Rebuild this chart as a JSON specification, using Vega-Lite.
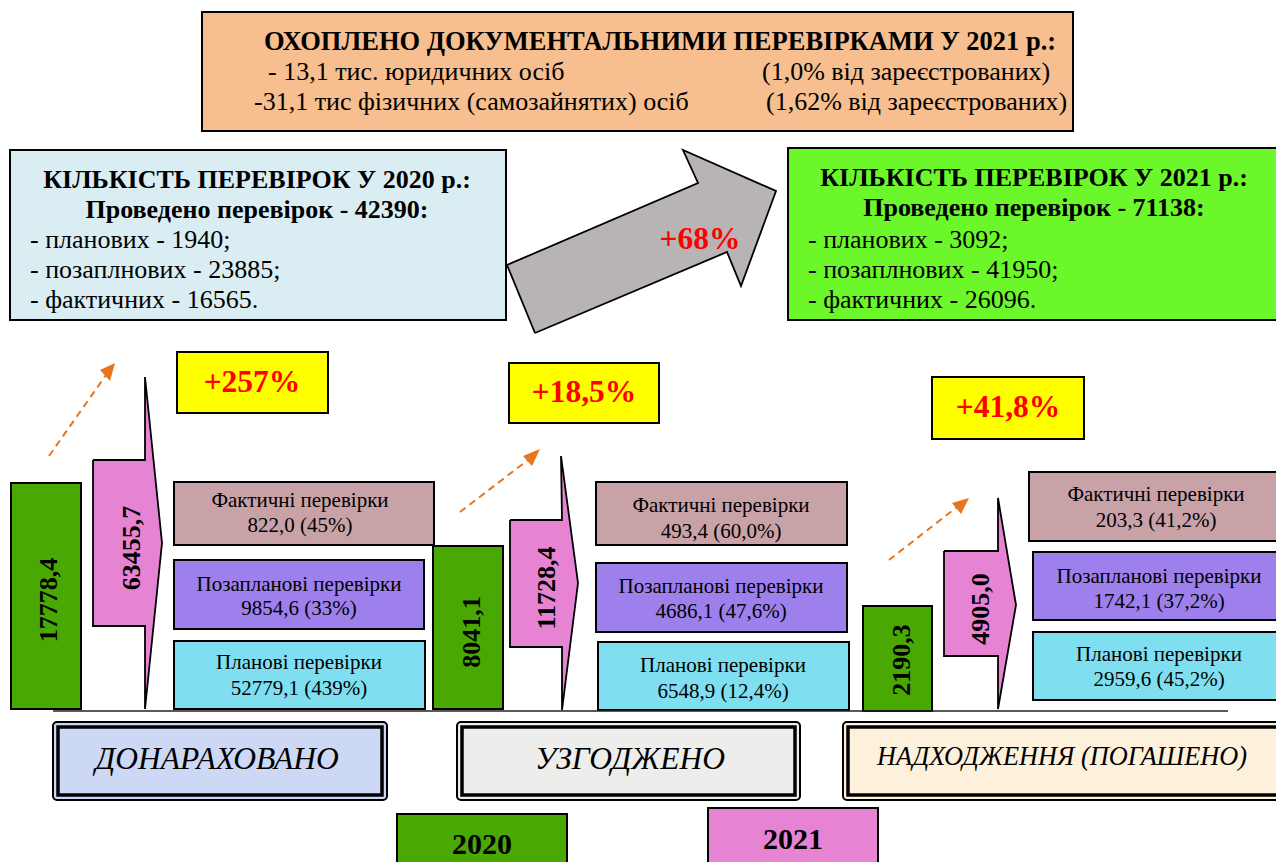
{
  "$schema": "https://vega.github.io/schema/vega-lite/v6.json",
  "width": 1276,
  "height": 862,
  "autosize": {"type": "fit", "contains": "padding"},
  "padding": 0,
  "background": "white",
  "config": {"view": {"stroke": null}},
  "datasets": {
    "rects": [
      {"kind": "top", "x": 202, "x2": 1073, "y": 12, "y2": 131},
      {"kind": "y2020", "x": 10, "x2": 506, "y": 150, "y2": 320},
      {"kind": "y2021", "x": 788, "x2": 1282, "y": 148, "y2": 320},
      {"kind": "yellow", "x": 177, "x2": 328, "y": 352, "y2": 413},
      {"kind": "yellow", "x": 509, "x2": 659, "y": 363, "y2": 423},
      {"kind": "yellow", "x": 932, "x2": 1084, "y": 377, "y2": 439},
      {"kind": "green", "x": 11, "x2": 81, "y": 483, "y2": 709},
      {"kind": "green", "x": 433, "x2": 503, "y": 546, "y2": 709},
      {"kind": "green", "x": 863, "x2": 932, "y": 606, "y2": 711},
      {"kind": "fact", "x": 174, "x2": 434, "y": 482, "y2": 545},
      {"kind": "poza", "x": 174, "x2": 424, "y": 560, "y2": 629},
      {"kind": "plan", "x": 174, "x2": 425, "y": 641, "y2": 709},
      {"kind": "fact", "x": 596, "x2": 847, "y": 482, "y2": 545},
      {"kind": "poza", "x": 596, "x2": 847, "y": 563, "y2": 632},
      {"kind": "plan", "x": 598, "x2": 849, "y": 642, "y2": 710},
      {"kind": "fact", "x": 1029, "x2": 1282, "y": 472, "y2": 541},
      {"kind": "poza", "x": 1033, "x2": 1282, "y": 552, "y2": 620},
      {"kind": "plan", "x": 1033, "x2": 1282, "y": 632, "y2": 700},
      {"kind": "green", "x": 397, "x2": 567, "y": 814, "y2": 870},
      {"kind": "pink", "x": 708, "x2": 878, "y": 808, "y2": 870}
    ],
    "labels": [
      {"kind": "lab1", "x": 53, "x2": 387, "y": 722, "y2": 800},
      {"kind": "lab2", "x": 457, "x2": 800, "y": 722, "y2": 800},
      {"kind": "lab3", "x": 843, "x2": 1282, "y": 722, "y2": 800}
    ],
    "frames": [
      {"x": 58, "x2": 382, "y": 727, "y2": 795},
      {"x": 462, "x2": 795, "y": 727, "y2": 795},
      {"x": 848, "x2": 1282, "y": 727, "y2": 795}
    ],
    "polys": [
      {"shape": "gray", "kind": "gray", "i": 1, "x": 535, "y": 333},
      {"shape": "gray", "kind": "gray", "i": 2, "x": 507, "y": 265},
      {"shape": "gray", "kind": "gray", "i": 3, "x": 698, "y": 183},
      {"shape": "gray", "kind": "gray", "i": 4, "x": 683, "y": 150},
      {"shape": "gray", "kind": "gray", "i": 5, "x": 776, "y": 191},
      {"shape": "gray", "kind": "gray", "i": 6, "x": 741, "y": 286},
      {"shape": "gray", "kind": "gray", "i": 7, "x": 727, "y": 252},
      {"shape": "gray", "kind": "gray", "i": 8, "x": 535, "y": 333},
      {"shape": "p1", "kind": "pink", "i": 1, "x": 93, "y": 460},
      {"shape": "p1", "kind": "pink", "i": 2, "x": 145, "y": 460},
      {"shape": "p1", "kind": "pink", "i": 3, "x": 145, "y": 377},
      {"shape": "p1", "kind": "pink", "i": 4, "x": 162, "y": 543},
      {"shape": "p1", "kind": "pink", "i": 5, "x": 145, "y": 709},
      {"shape": "p1", "kind": "pink", "i": 6, "x": 145, "y": 626},
      {"shape": "p1", "kind": "pink", "i": 7, "x": 93, "y": 626},
      {"shape": "p1", "kind": "pink", "i": 8, "x": 93, "y": 460},
      {"shape": "p2", "kind": "pink", "i": 1, "x": 510, "y": 520},
      {"shape": "p2", "kind": "pink", "i": 2, "x": 562, "y": 520},
      {"shape": "p2", "kind": "pink", "i": 3, "x": 561, "y": 456},
      {"shape": "p2", "kind": "pink", "i": 4, "x": 578, "y": 583},
      {"shape": "p2", "kind": "pink", "i": 5, "x": 562, "y": 710},
      {"shape": "p2", "kind": "pink", "i": 6, "x": 562, "y": 647},
      {"shape": "p2", "kind": "pink", "i": 7, "x": 510, "y": 647},
      {"shape": "p2", "kind": "pink", "i": 8, "x": 510, "y": 520},
      {"shape": "p3", "kind": "pink", "i": 1, "x": 944, "y": 551},
      {"shape": "p3", "kind": "pink", "i": 2, "x": 998, "y": 551},
      {"shape": "p3", "kind": "pink", "i": 3, "x": 998, "y": 498},
      {"shape": "p3", "kind": "pink", "i": 4, "x": 1016, "y": 605},
      {"shape": "p3", "kind": "pink", "i": 5, "x": 998, "y": 709},
      {"shape": "p3", "kind": "pink", "i": 6, "x": 998, "y": 656},
      {"shape": "p3", "kind": "pink", "i": 7, "x": 944, "y": 656},
      {"shape": "p3", "kind": "pink", "i": 8, "x": 944, "y": 551}
    ],
    "heads": [
      {"shape": "h1", "kind": "orange", "i": 1, "x": 115, "y": 363},
      {"shape": "h1", "kind": "orange", "i": 2, "x": 110, "y": 381},
      {"shape": "h1", "kind": "orange", "i": 3, "x": 100, "y": 370},
      {"shape": "h2", "kind": "orange", "i": 1, "x": 540, "y": 449},
      {"shape": "h2", "kind": "orange", "i": 2, "x": 532, "y": 466},
      {"shape": "h2", "kind": "orange", "i": 3, "x": 523, "y": 456},
      {"shape": "h3", "kind": "orange", "i": 1, "x": 969, "y": 498},
      {"shape": "h3", "kind": "orange", "i": 2, "x": 961, "y": 514},
      {"shape": "h3", "kind": "orange", "i": 3, "x": 952, "y": 503}
    ],
    "dashes": [
      {"id": "d1", "i": 1, "x": 49, "y": 456},
      {"id": "d1", "i": 2, "x": 106, "y": 375},
      {"id": "d2", "i": 1, "x": 460, "y": 512},
      {"id": "d2", "i": 2, "x": 528, "y": 460},
      {"id": "d3", "i": 1, "x": 889, "y": 560},
      {"id": "d3", "i": 2, "x": 957, "y": 507}
    ],
    "base": [
      {"x": 53, "x2": 1228, "y": 711}
    ],
    "texts": [
      {"role": "title", "text": "ОХОПЛЕНО ДОКУМЕНТАЛЬНИМИ ПЕРЕВІРКАМИ У 2021 р.:", "x": 660, "y": 42},
      {"role": "top", "text": "- 13,1 тис. юридичних осіб", "x": 268, "y": 72},
      {"role": "top", "text": "(1,0% від зареєстрованих)", "x": 762, "y": 72},
      {"role": "top", "text": "-31,1 тис фізичних (самозайнятих) осіб", "x": 254, "y": 102},
      {"role": "top", "text": "(1,62% від зареєстрованих)", "x": 766, "y": 102},
      {"role": "head", "text": "КІЛЬКІСТЬ ПЕРЕВІРОК У 2020 р.:", "x": 257, "y": 180},
      {"role": "head", "text": "Проведено перевірок - 42390:", "x": 257, "y": 210},
      {"role": "list", "text": "- планових - 1940;", "x": 30, "y": 240},
      {"role": "list", "text": "- позаплнових - 23885;", "x": 30, "y": 270},
      {"role": "list", "text": "- фактичних - 16565.", "x": 30, "y": 300},
      {"role": "head", "text": "КІЛЬКІСТЬ ПЕРЕВІРОК У 2021 р.:", "x": 1034, "y": 178},
      {"role": "head", "text": "Проведено перевірок - 71138:", "x": 1034, "y": 208},
      {"role": "list", "text": "- планових - 3092;", "x": 808, "y": 240},
      {"role": "list", "text": "- позаплнових - 41950;", "x": 808, "y": 270},
      {"role": "list", "text": "- фактичних - 26096.", "x": 808, "y": 300},
      {"role": "pct", "text": "+68%", "x": 700, "y": 240},
      {"role": "pct", "text": "+257%", "x": 252, "y": 383},
      {"role": "pct", "text": "+18,5%", "x": 584, "y": 393},
      {"role": "pct", "text": "+41,8%", "x": 1008, "y": 408},
      {"role": "vert", "text": "17778,4", "x": 49, "y": 600},
      {"role": "vert", "text": "63455,7", "x": 132, "y": 548},
      {"role": "vert", "text": "8041,1", "x": 472, "y": 632},
      {"role": "vert", "text": "11728,4", "x": 547, "y": 588},
      {"role": "vert", "text": "2190,3", "x": 902, "y": 660},
      {"role": "vert", "text": "4905,0", "x": 981, "y": 609},
      {"role": "cell", "text": "Фактичні перевірки", "x": 300, "y": 501},
      {"role": "cell", "text": "822,0 (45%)", "x": 300, "y": 526},
      {"role": "cell", "text": "Позапланові перевірки", "x": 299, "y": 585},
      {"role": "cell", "text": "9854,6 (33%)", "x": 299, "y": 609},
      {"role": "cell", "text": "Планові перевірки", "x": 299, "y": 663},
      {"role": "cell", "text": "52779,1 (439%)", "x": 299, "y": 689},
      {"role": "cell", "text": "Фактичні перевірки", "x": 721, "y": 506},
      {"role": "cell", "text": "493,4 (60,0%)", "x": 721, "y": 532},
      {"role": "cell", "text": "Позапланові перевірки", "x": 721, "y": 587},
      {"role": "cell", "text": "4686,1 (47,6%)", "x": 721, "y": 612},
      {"role": "cell", "text": "Планові перевірки", "x": 723, "y": 666},
      {"role": "cell", "text": "6548,9 (12,4%)", "x": 723, "y": 692},
      {"role": "cell", "text": "Фактичні перевірки", "x": 1156, "y": 495},
      {"role": "cell", "text": "203,3 (41,2%)", "x": 1156, "y": 521},
      {"role": "cell", "text": "Позапланові перевірки", "x": 1159, "y": 577},
      {"role": "cell", "text": "1742,1   (37,2%)", "x": 1159, "y": 602},
      {"role": "cell", "text": "Планові перевірки", "x": 1159, "y": 655},
      {"role": "cell", "text": "2959,6 (45,2%)", "x": 1159, "y": 680},
      {"role": "label", "text": "ДОНАРАХОВАНО", "x": 217, "y": 760},
      {"role": "label", "text": "УЗГОДЖЕНО", "x": 630, "y": 760},
      {"role": "label2", "text": "НАДХОДЖЕННЯ (ПОГАШЕНО)", "x": 1062, "y": 757},
      {"role": "year", "text": "2020", "x": 482, "y": 845},
      {"role": "year", "text": "2021", "x": 793, "y": 840}
    ]
  },
  "layer": [
    {
      "data": {"name": "rects"},
      "mark": {"type": "rect", "stroke": "black", "strokeWidth": 2, "clip": true},
      "encoding": {
        "x": {"field": "x", "type": "quantitative", "scale": {"domain": [0, 1276], "nice": false, "zero": false}, "axis": null},
        "x2": {"field": "x2"},
        "y": {"field": "y", "type": "quantitative", "scale": {"domain": [0, 862], "nice": false, "zero": false, "reverse": true}, "axis": null},
        "y2": {"field": "y2"},
        "color": {"field": "kind", "type": "nominal", "legend": null, "scale": {"domain": ["top", "y2020", "y2021", "yellow", "green", "pink", "fact", "poza", "plan", "gray", "lab1", "lab2", "lab3", "orange"], "range": ["#f7be8f", "#daedf3", "#6cf72b", "#ffff00", "#4aa803", "#e683d3", "#c9a2a8", "#9d80ec", "#7fdff1", "#b8b4b5", "#cdd8f4", "#ededeb", "#fdf1dc", "#e8741c"]}}
      }
    },
    {
      "data": {"name": "labels"},
      "mark": {"type": "rect", "stroke": "black", "strokeWidth": 2, "cornerRadius": 4, "clip": true},
      "encoding": {
        "x": {"field": "x", "type": "quantitative", "scale": {"domain": [0, 1276], "nice": false, "zero": false}, "axis": null},
        "x2": {"field": "x2"},
        "y": {"field": "y", "type": "quantitative", "scale": {"domain": [0, 862], "nice": false, "zero": false, "reverse": true}, "axis": null},
        "y2": {"field": "y2"},
        "color": {"field": "kind", "type": "nominal", "legend": null, "scale": {"domain": ["top", "y2020", "y2021", "yellow", "green", "pink", "fact", "poza", "plan", "gray", "lab1", "lab2", "lab3", "orange"], "range": ["#f7be8f", "#daedf3", "#6cf72b", "#ffff00", "#4aa803", "#e683d3", "#c9a2a8", "#9d80ec", "#7fdff1", "#b8b4b5", "#cdd8f4", "#ededeb", "#fdf1dc", "#e8741c"]}}
      }
    },
    {
      "data": {"name": "frames"},
      "mark": {"type": "rect", "stroke": "black", "strokeWidth": 3.5, "fill": null, "filled": false, "clip": true},
      "encoding": {
        "x": {"field": "x", "type": "quantitative", "scale": {"domain": [0, 1276], "nice": false, "zero": false}, "axis": null},
        "x2": {"field": "x2"},
        "y": {"field": "y", "type": "quantitative", "scale": {"domain": [0, 862], "nice": false, "zero": false, "reverse": true}, "axis": null},
        "y2": {"field": "y2"}
      }
    },
    {
      "data": {"name": "base"},
      "mark": {"type": "rule", "stroke": "#222222", "strokeWidth": 1.5, "clip": true},
      "encoding": {
        "x": {"field": "x", "type": "quantitative", "scale": {"domain": [0, 1276], "nice": false, "zero": false}, "axis": null},
        "x2": {"field": "x2"},
        "y": {"field": "y", "type": "quantitative", "scale": {"domain": [0, 862], "nice": false, "zero": false, "reverse": true}, "axis": null}
      }
    },
    {
      "data": {"name": "polys"},
      "mark": {"type": "line", "filled": true, "stroke": "black", "strokeWidth": 1.8, "strokeJoin": "miter", "clip": true},
      "encoding": {
        "x": {"field": "x", "type": "quantitative", "scale": {"domain": [0, 1276], "nice": false, "zero": false}, "axis": null},
        "y": {"field": "y", "type": "quantitative", "scale": {"domain": [0, 862], "nice": false, "zero": false, "reverse": true}, "axis": null},
        "order": {"field": "i", "type": "quantitative"},
        "detail": {"field": "shape", "type": "nominal"},
        "color": {"field": "kind", "type": "nominal", "legend": null, "scale": {"domain": ["top", "y2020", "y2021", "yellow", "green", "pink", "fact", "poza", "plan", "gray", "lab1", "lab2", "lab3", "orange"], "range": ["#f7be8f", "#daedf3", "#6cf72b", "#ffff00", "#4aa803", "#e683d3", "#c9a2a8", "#9d80ec", "#7fdff1", "#b8b4b5", "#cdd8f4", "#ededeb", "#fdf1dc", "#e8741c"]}}
      }
    },
    {
      "data": {"name": "dashes"},
      "mark": {"type": "line", "stroke": "#e8741c", "strokeWidth": 2, "strokeDash": [7, 5], "clip": true},
      "encoding": {
        "x": {"field": "x", "type": "quantitative", "scale": {"domain": [0, 1276], "nice": false, "zero": false}, "axis": null},
        "y": {"field": "y", "type": "quantitative", "scale": {"domain": [0, 862], "nice": false, "zero": false, "reverse": true}, "axis": null},
        "order": {"field": "i", "type": "quantitative"},
        "detail": {"field": "id", "type": "nominal"}
      }
    },
    {
      "data": {"name": "heads"},
      "mark": {"type": "line", "filled": true, "strokeWidth": 0, "clip": true},
      "encoding": {
        "x": {"field": "x", "type": "quantitative", "scale": {"domain": [0, 1276], "nice": false, "zero": false}, "axis": null},
        "y": {"field": "y", "type": "quantitative", "scale": {"domain": [0, 862], "nice": false, "zero": false, "reverse": true}, "axis": null},
        "order": {"field": "i", "type": "quantitative"},
        "detail": {"field": "shape", "type": "nominal"},
        "color": {"field": "kind", "type": "nominal", "legend": null, "scale": {"domain": ["top", "y2020", "y2021", "yellow", "green", "pink", "fact", "poza", "plan", "gray", "lab1", "lab2", "lab3", "orange"], "range": ["#f7be8f", "#daedf3", "#6cf72b", "#ffff00", "#4aa803", "#e683d3", "#c9a2a8", "#9d80ec", "#7fdff1", "#b8b4b5", "#cdd8f4", "#ededeb", "#fdf1dc", "#e8741c"]}}
      }
    },
    {
      "data": {"name": "texts"},
      "transform": [{"filter": "datum.role === 'title'"}],
      "mark": {"type": "text", "font": "Liberation Serif", "fontWeight": "bold", "fontSize": 26.5, "baseline": "middle", "align": "center", "color": "black"},
      "encoding": {
        "x": {"field": "x", "type": "quantitative", "scale": {"domain": [0, 1276], "nice": false, "zero": false}, "axis": null},
        "y": {"field": "y", "type": "quantitative", "scale": {"domain": [0, 862], "nice": false, "zero": false, "reverse": true}, "axis": null},
        "text": {"field": "text"}
      }
    },
    {
      "data": {"name": "texts"},
      "transform": [{"filter": "datum.role === 'top'"}],
      "mark": {"type": "text", "font": "Liberation Serif", "fontSize": 26, "baseline": "middle", "align": "left", "color": "black"},
      "encoding": {
        "x": {"field": "x", "type": "quantitative", "scale": {"domain": [0, 1276], "nice": false, "zero": false}, "axis": null},
        "y": {"field": "y", "type": "quantitative", "scale": {"domain": [0, 862], "nice": false, "zero": false, "reverse": true}, "axis": null},
        "text": {"field": "text"}
      }
    },
    {
      "data": {"name": "texts"},
      "transform": [{"filter": "datum.role === 'head'"}],
      "mark": {"type": "text", "font": "Liberation Serif", "fontWeight": "bold", "fontSize": 26, "baseline": "middle", "align": "center", "color": "black"},
      "encoding": {
        "x": {"field": "x", "type": "quantitative", "scale": {"domain": [0, 1276], "nice": false, "zero": false}, "axis": null},
        "y": {"field": "y", "type": "quantitative", "scale": {"domain": [0, 862], "nice": false, "zero": false, "reverse": true}, "axis": null},
        "text": {"field": "text"}
      }
    },
    {
      "data": {"name": "texts"},
      "transform": [{"filter": "datum.role === 'list'"}],
      "mark": {"type": "text", "font": "Liberation Serif", "fontSize": 26, "baseline": "middle", "align": "left", "color": "black"},
      "encoding": {
        "x": {"field": "x", "type": "quantitative", "scale": {"domain": [0, 1276], "nice": false, "zero": false}, "axis": null},
        "y": {"field": "y", "type": "quantitative", "scale": {"domain": [0, 862], "nice": false, "zero": false, "reverse": true}, "axis": null},
        "text": {"field": "text"}
      }
    },
    {
      "data": {"name": "texts"},
      "transform": [{"filter": "datum.role === 'pct'"}],
      "mark": {"type": "text", "font": "Liberation Serif", "fontWeight": "bold", "fontSize": 31.5, "baseline": "middle", "align": "center", "color": "#ff0000"},
      "encoding": {
        "x": {"field": "x", "type": "quantitative", "scale": {"domain": [0, 1276], "nice": false, "zero": false}, "axis": null},
        "y": {"field": "y", "type": "quantitative", "scale": {"domain": [0, 862], "nice": false, "zero": false, "reverse": true}, "axis": null},
        "text": {"field": "text"}
      }
    },
    {
      "data": {"name": "texts"},
      "transform": [{"filter": "datum.role === 'vert'"}],
      "mark": {"type": "text", "font": "Liberation Serif", "fontWeight": "bold", "fontSize": 26, "baseline": "middle", "align": "center", "angle": 270, "color": "black"},
      "encoding": {
        "x": {"field": "x", "type": "quantitative", "scale": {"domain": [0, 1276], "nice": false, "zero": false}, "axis": null},
        "y": {"field": "y", "type": "quantitative", "scale": {"domain": [0, 862], "nice": false, "zero": false, "reverse": true}, "axis": null},
        "text": {"field": "text"}
      }
    },
    {
      "data": {"name": "texts"},
      "transform": [{"filter": "datum.role === 'cell'"}],
      "mark": {"type": "text", "font": "Liberation Serif", "fontSize": 21, "baseline": "middle", "align": "center", "color": "black"},
      "encoding": {
        "x": {"field": "x", "type": "quantitative", "scale": {"domain": [0, 1276], "nice": false, "zero": false}, "axis": null},
        "y": {"field": "y", "type": "quantitative", "scale": {"domain": [0, 862], "nice": false, "zero": false, "reverse": true}, "axis": null},
        "text": {"field": "text"}
      }
    },
    {
      "data": {"name": "texts"},
      "transform": [{"filter": "datum.role === 'label'"}],
      "mark": {"type": "text", "font": "Liberation Serif", "fontStyle": "italic", "fontSize": 31.5, "baseline": "middle", "align": "center", "color": "black"},
      "encoding": {
        "x": {"field": "x", "type": "quantitative", "scale": {"domain": [0, 1276], "nice": false, "zero": false}, "axis": null},
        "y": {"field": "y", "type": "quantitative", "scale": {"domain": [0, 862], "nice": false, "zero": false, "reverse": true}, "axis": null},
        "text": {"field": "text"}
      }
    },
    {
      "data": {"name": "texts"},
      "transform": [{"filter": "datum.role === 'label2'"}],
      "mark": {"type": "text", "font": "Liberation Serif", "fontStyle": "italic", "fontSize": 26.3, "baseline": "middle", "align": "center", "color": "black"},
      "encoding": {
        "x": {"field": "x", "type": "quantitative", "scale": {"domain": [0, 1276], "nice": false, "zero": false}, "axis": null},
        "y": {"field": "y", "type": "quantitative", "scale": {"domain": [0, 862], "nice": false, "zero": false, "reverse": true}, "axis": null},
        "text": {"field": "text"}
      }
    },
    {
      "data": {"name": "texts"},
      "transform": [{"filter": "datum.role === 'year'"}],
      "mark": {"type": "text", "font": "Liberation Serif", "fontWeight": "bold", "fontSize": 30, "baseline": "middle", "align": "center", "color": "black"},
      "encoding": {
        "x": {"field": "x", "type": "quantitative", "scale": {"domain": [0, 1276], "nice": false, "zero": false}, "axis": null},
        "y": {"field": "y", "type": "quantitative", "scale": {"domain": [0, 862], "nice": false, "zero": false, "reverse": true}, "axis": null},
        "text": {"field": "text"}
      }
    }
  ]
}
